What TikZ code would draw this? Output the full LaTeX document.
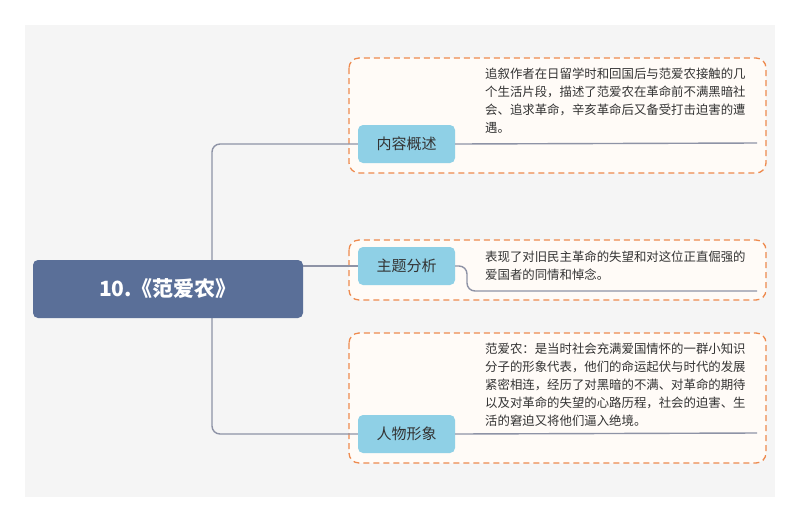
\documentclass[tikz,border=0pt]{standalone}
\usepackage{fontspec}
\setmainfont{Noto Sans CJK SC}
\begin{document}
\begin{tikzpicture}[x=1pt,y=-1pt,
  topic/.style={rounded corners=5pt,fill=topicblue,minimum width=97pt,minimum height=38pt,font=\fontsize{15}{18}\selectfont,text=black!80},
  frame/.style={draw=dashorange,dashed,line width=1.3pt,rounded corners=10pt,dash pattern=on 6pt off 4pt,fill=white!97!orange},
  conn/.style={draw=linegray,line width=1.4pt,rounded corners=8pt},
  desc/.style={anchor=north west,align=left,font=\fontsize{12.4}{18}\selectfont,text=black!80,inner sep=0pt}]
\definecolor{topicblue}{HTML}{8FD0E6}
\definecolor{dashorange}{HTML}{EE8A4E}
\definecolor{linegray}{HTML}{8E93A6}
\definecolor{rootblue}{HTML}{5A6F98}
\fill[white] (0,0) rectangle (800,523);
\fill[black!4] (25,25) rectangle (775,497);
\draw[frame] (349,58) rectangle (766,173);
\draw[frame] (349,240) rectangle (766,300);
\draw[frame] (349,333) rectangle (766,463);
\coordinate (j) at (212,289);
\node[topic] (t1) at (406.5,144) {内容概述};
\node[topic] (t2) at (406.5,266) {主题分析};
\node[topic] (t3) at (406.5,434) {人物形象};
\draw[conn] (j) |- (t1.west);
\draw[conn] (j) |- (t3.west);
\node[rounded corners=5pt,fill=rootblue,minimum width=270pt,minimum height=58pt,text=white,font=\fontsize{21}{24}\selectfont\bfseries] (root) at (168,289) {10.《范爱农》};
\draw[conn] (root.east |- t2.west) -- (t2.west);
\coordinate (e1) at (757,143);
\coordinate (e2) at (757,291);
\coordinate (e3) at (757,433);
\draw[conn] (t1.east) -- (e1);
\draw[conn] (t2.east) -- (467,266) -- (467,291) -- (e2);
\draw[conn] (t3.east) -- (e3);
\node[desc] (d1) at (485,68) {追叙作者在日留学时和回国后与范爱农接触的几\\个生活片段，描述了范爱农在革命前不满黑暗社\\会、追求革命，辛亥革命后又备受打击迫害的遭\\遇。};
\node[desc] (d2) at (485,251) {表现了对旧民主革命的失望和对这位正直倔强的\\爱国者的同情和悼念。};
\node[desc] (d3) at (485,343) {范爱农：是当时社会充满爱国情怀的一群小知识\\分子的形象代表，他们的命运起伏与时代的发展\\紧密相连，经历了对黑暗的不满、对革命的期待\\以及对革命的失望的心路历程，社会的迫害、生\\活的窘迫又将他们逼入绝境。};
\end{tikzpicture}
\end{document}
